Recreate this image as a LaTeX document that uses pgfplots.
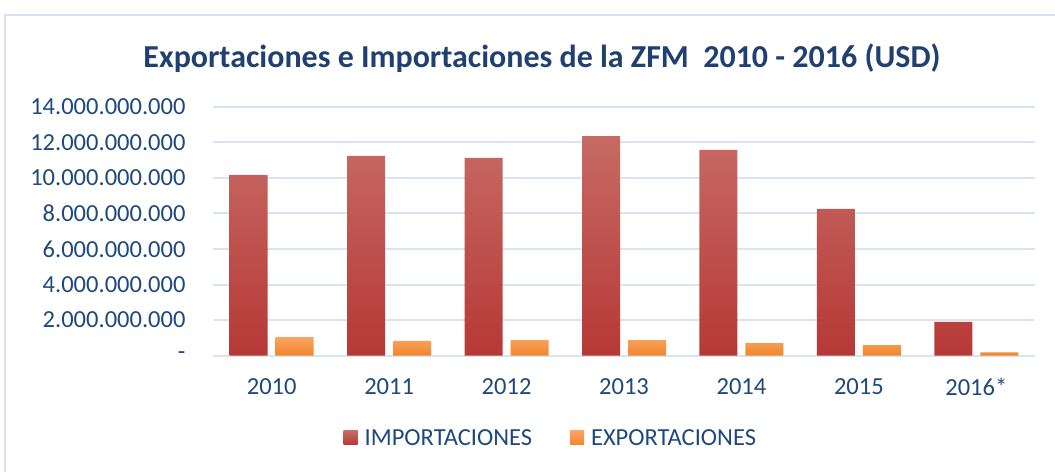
\documentclass[border=0pt]{standalone}
\usepackage{fontspec}
\setmainfont{Carlito}
\usepackage{pgfplots}
\pgfplotsset{compat=1.18}
\definecolor{zfmTitle}{RGB}{31,64,112}
\definecolor{zfmText}{RGB}{31,73,125}
\definecolor{zfmGrid}{RGB}{217,227,243}
\definecolor{zfmBorder}{RGB}{214,224,240}
\definecolor{impTop}{RGB}{199,106,100}
\definecolor{impBot}{RGB}{182,56,54}
\definecolor{expTop}{RGB}{251,164,98}
\definecolor{expBot}{RGB}{240,134,44}

\begin{document}
\begin{tikzpicture}
\useasboundingbox (0bp,0bp) rectangle (1055bp,472bp);
\draw[line width=2bp,zfmBorder] (5bp,-10bp) -- (5bp,457bp) -- (1070bp,457bp);
\node[font=\fontsize{32.1}{36}\selectfont\bfseries,text=zfmTitle] at (542bp,414bp) {Exportaciones e Importaciones de la ZFM\ \ 2010 - 2016 (USD)};
\begin{axis}[
 at={(213bp,116.3bp)},anchor=south west,
 scale only axis,width=822bp,height=249bp,
 ybar=8bp,bar width=38bp,
 xmin=-0.5,xmax=6.5,ymin=0,ymax=14000000000,
 xtick={0,1,2,3,4,5,6},
 xticklabels={2010,2011,2012,2013,2014,2015,2016*},
 ytick={0,2000000000,4000000000,6000000000,8000000000,10000000000,12000000000,14000000000},
 yticklabels={-,2.000.000.000,4.000.000.000,6.000.000.000,8.000.000.000,10.000.000.000,12.000.000.000,14.000.000.000},
 scaled y ticks=false,
 tick label style={font=\fontsize{24.6}{27}\selectfont,text=zfmText},
 yticklabel style={xshift=-24bp},
 xticklabel style={yshift=-15bp},
 axis line style={draw=none},tick style={draw=none},
 ymajorgrids,major grid style={line width=2bp,draw=zfmGrid},
 legend style={at={(0.411,-0.33)},anchor=center,draw=none,fill=none,
  legend columns=2,font=\fontsize{24.6}{27}\selectfont,text=zfmText,
  /tikz/every even column/.append style={column sep=36bp}},
 legend image code/.code={\path[#1] (0bp,-7bp) rectangle (14bp,7bp);\path (19bp,0bp);},
 legend cell align=left,
]
\addplot[draw=none,top color=impTop,bottom color=impBot] coordinates {
 (0,10160000000) (1,11230000000) (2,11120000000) (3,12350000000)
 (4,11570000000) (5,8250000000) (6,1900000000)};
\addplot[draw=none,top color=expTop,bottom color=expBot] coordinates {
 (0,1050000000) (1,830000000) (2,880000000) (3,880000000)
 (4,710000000) (5,600000000) (6,190000000)};
\legend{IMPORTACIONES,EXPORTACIONES}
\end{axis}
\end{tikzpicture}
\end{document}
